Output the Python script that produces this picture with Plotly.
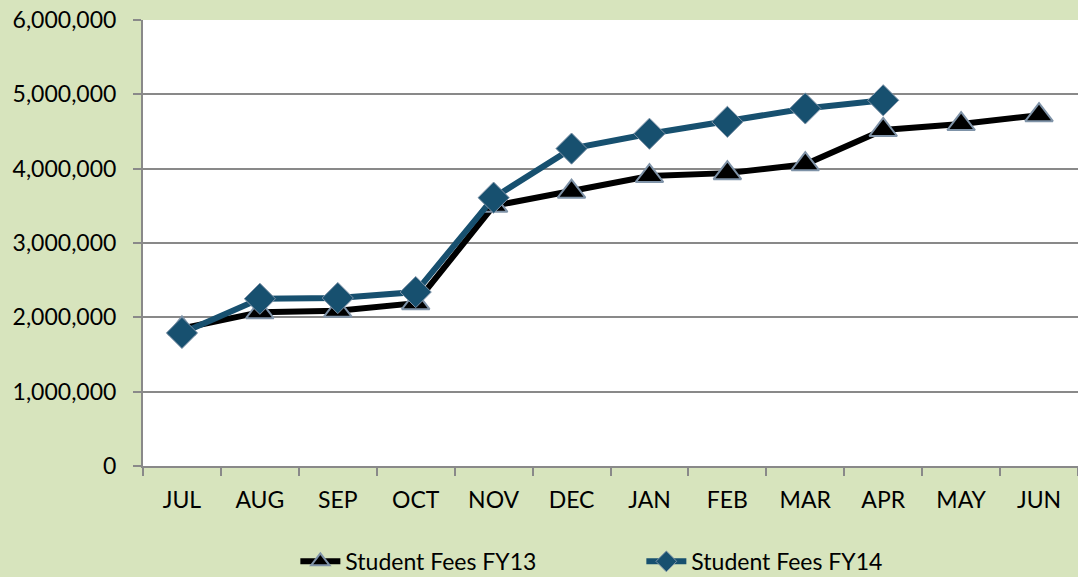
import plotly.graph_objects as go

months = ["JUL", "AUG", "SEP", "OCT", "NOV", "DEC", "JAN", "FEB", "MAR", "APR", "MAY", "JUN"]
fy13 = [1850000, 2070000, 2090000, 2190000, 3500000, 3690000, 3900000, 3940000, 4060000, 4520000, 4600000, 4720000]
fy14 = [1790000, 2250000, 2260000, 2340000, 3610000, 4270000, 4470000, 4630000, 4810000, 4920000]

FONT = "Lato"
fig = go.Figure()
fig.add_trace(go.Scatter(
    x=months, y=fy13, name="Student Fees FY13", mode="lines+markers",
    line=dict(color="#000000", width=6),
    marker=dict(symbol="triangle-up", size=24, color="#000000",
                line=dict(color="#7F93A8", width=2)),
))
fig.add_trace(go.Scatter(
    x=months[:len(fy14)], y=fy14, name="Student Fees FY14", mode="lines+markers",
    line=dict(color="#17506F", width=6),
    marker=dict(symbol="diamond", size=24, color="#17506F",
                line=dict(color="#7F93A8", width=1)),
))
fig.update_layout(
    width=1078, height=577,
    paper_bgcolor="#D7E4BD", plot_bgcolor="#FFFFFF",
    margin=dict(l=143, r=0, t=20, b=111, autoexpand=False),
    font=dict(family=FONT, size=23, color="#000000"),
    showlegend=True,
    legend=dict(orientation="h", x=0.533, xanchor="center",
                yref="container", y=0.027, yanchor="middle",
                bgcolor="rgba(0,0,0,0)", font=dict(family=FONT, size=23),
                itemwidth=40, entrywidth=291),
)
fig.update_xaxes(
    type="category", categoryorder="array", categoryarray=months,
    range=[-0.5, 11.5],
    showline=True, linecolor="#898989", linewidth=2,
    ticks="outside", tickson="boundaries", ticklen=8, tickcolor="#898989", tickwidth=2,
    ticklabelstandoff=12,
    showgrid=False, tickfont=dict(family=FONT, size=23),
)
fig.update_yaxes(
    range=[0, 6000000], dtick=1000000, tickformat=",",
    showline=True, linecolor="#898989", linewidth=2,
    ticks="outside", ticklen=8, tickcolor="#898989", tickwidth=2,
    ticklabelstandoff=12,
    showgrid=True, gridcolor="#898989", gridwidth=2,
    zeroline=False, tickfont=dict(family=FONT, size=23),
)
fig.write_html("out.html", config={"displayModeBar": False},
               post_script="document.body.style.margin='0';document.body.style.background='#D7E4BD';")
